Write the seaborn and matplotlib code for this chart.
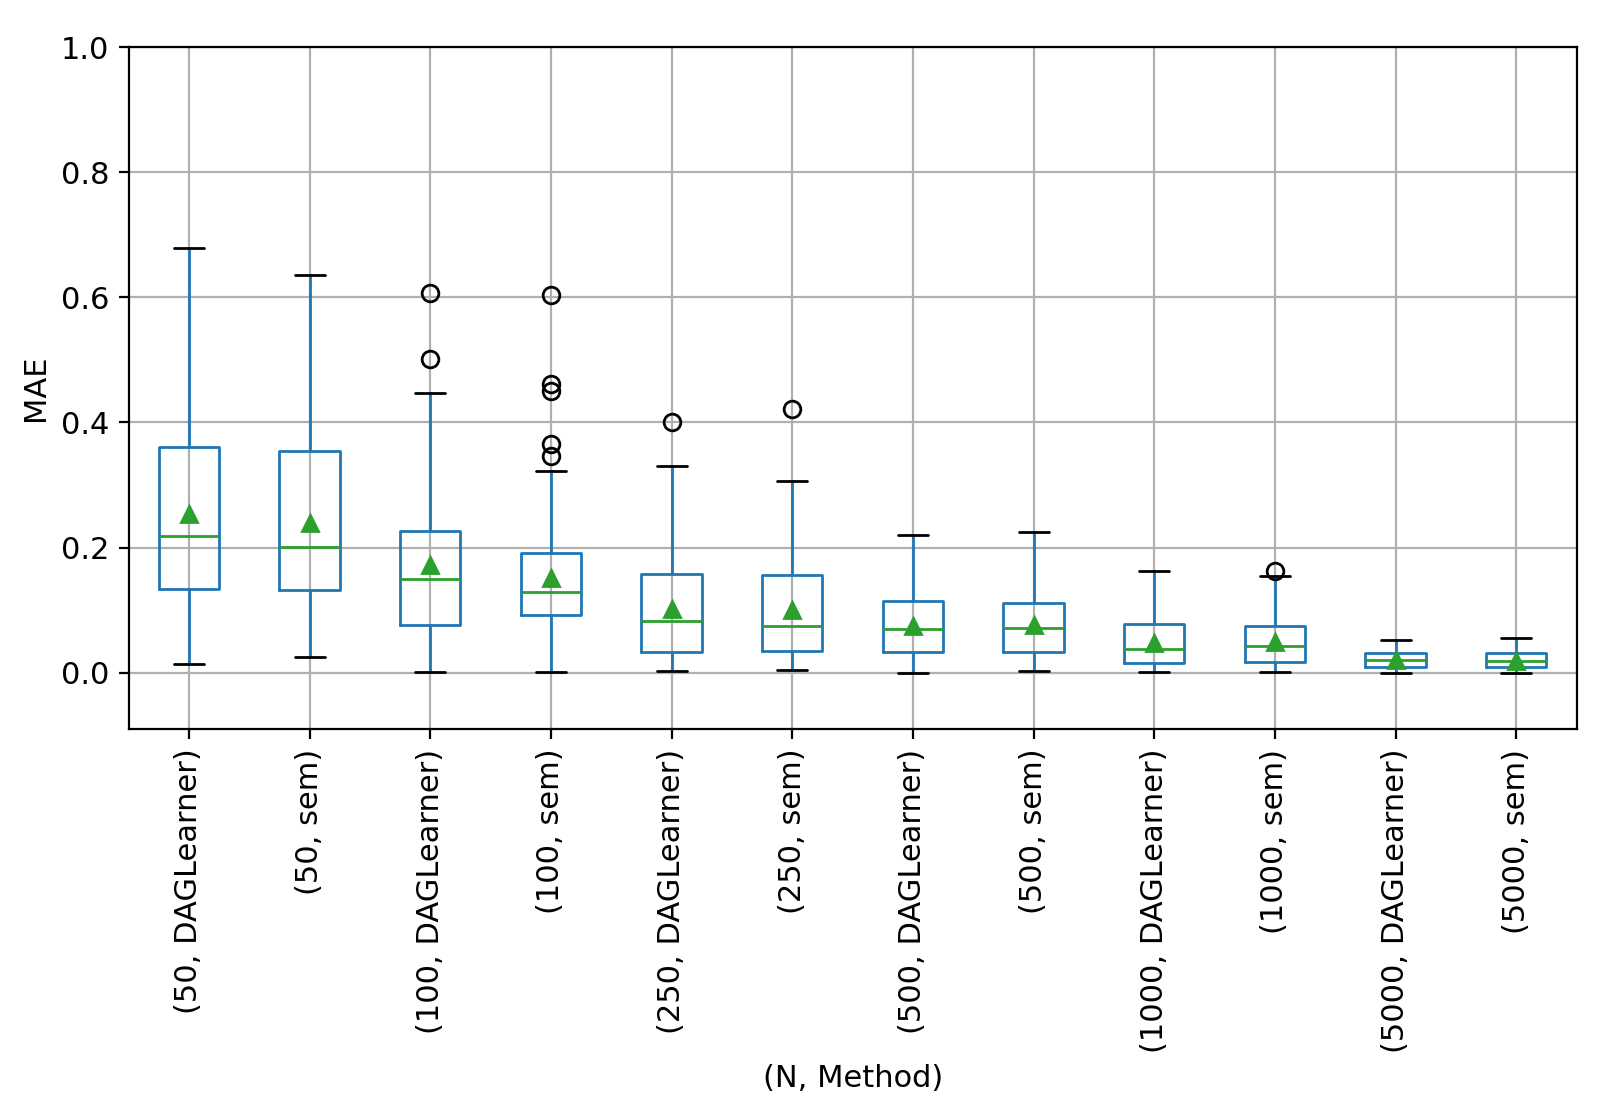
import matplotlib
matplotlib.use("Agg")
import matplotlib.pyplot as plt
import seaborn as sns

# ---- data ----
labels = ["(50, DAGLearner)", "(50, sem)", "(100, DAGLearner)", "(100, sem)",
          "(250, DAGLearner)", "(250, sem)", "(500, DAGLearner)", "(500, sem)",
          "(1000, DAGLearner)", "(1000, sem)", "(5000, DAGLearner)", "(5000, sem)"]
whislo = [0.014, 0.026, 0.002, 0.002, 0.003, 0.005, 0.000, 0.003, 0.002, 0.001, 0.000, 0.000]
q1     = [0.134, 0.133, 0.077, 0.093, 0.034, 0.035, 0.034, 0.034, 0.016, 0.017, 0.009, 0.009]
median = [0.219, 0.201, 0.150, 0.129, 0.082, 0.075, 0.070, 0.072, 0.038, 0.043, 0.020, 0.019]
q3     = [0.361, 0.355, 0.226, 0.191, 0.158, 0.157, 0.114, 0.112, 0.078, 0.074, 0.032, 0.032]
whishi = [0.679, 0.636, 0.447, 0.323, 0.331, 0.307, 0.220, 0.225, 0.163, 0.155, 0.052, 0.056]
means  = [0.254, 0.240, 0.172, 0.152, 0.102, 0.101, 0.075, 0.077, 0.048, 0.050, 0.021, 0.019]
fliers = [[], [], [0.607, 0.502], [0.603, 0.461, 0.450, 0.366, 0.346],
          [0.400], [0.421], [], [], [], [0.163], [], []]

# ---- style ----
sns.set_style("ticks", rc={
    "axes.grid": True, "grid.color": "#b0b0b0", "grid.linewidth": 0.8,
    "axes.edgecolor": "black", "axes.linewidth": 0.8,
    "xtick.color": "black", "ytick.color": "black",
    "text.color": "black", "axes.labelcolor": "black",
    "xtick.direction": "out", "ytick.direction": "out",
    "xtick.major.size": 3.5, "ytick.major.size": 3.5,
    "xtick.major.width": 0.8, "ytick.major.width": 0.8,
    "axes.facecolor": "white", "figure.facecolor": "white",
})
plt.rcParams["font.family"] = ["DejaVu Sans"]
fs = 11.0
plt.rcParams["font.size"] = fs
plt.rcParams["axes.labelsize"] = fs
plt.rcParams["xtick.labelsize"] = fs
plt.rcParams["ytick.labelsize"] = fs

fig = plt.figure(figsize=(8, 5.6), dpi=200)
ax = fig.add_axes([0.0804, 0.349, 0.905, 0.609])

stats = [dict(label=l, whislo=a, q1=b, med=c, q3=d, whishi=e, mean=m, fliers=f)
         for l, a, b, c, d, e, m, f in zip(labels, whislo, q1, median, q3, whishi, means, fliers)]

ax.bxp(stats, showmeans=True, widths=0.5,
       boxprops=dict(color="C0", linewidth=1.0),
       whiskerprops=dict(color="C0", linewidth=1.0),
       capprops=dict(color="black", linewidth=1.0),
       medianprops=dict(color="C2", linewidth=1.0),
       meanprops=dict(marker="^", markerfacecolor="C2", markeredgecolor="C2", markersize=6),
       flierprops=dict(marker="o", markerfacecolor="none", markeredgecolor="black", markersize=6))

ax.grid(True)
ax.set_ylim(-0.09, 1.0)
ax.set_xticks(range(1, len(labels) + 1))
ax.set_xticklabels(labels, rotation=90)
ax.set_xlabel("(N, Method)")
ax.set_ylabel("MAE")

fig.savefig("out.png", dpi=200)
